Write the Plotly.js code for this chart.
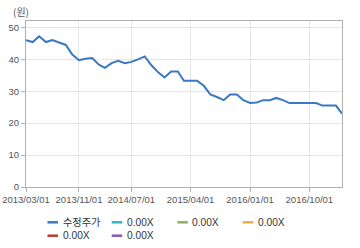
<!DOCTYPE html>
<html>
<head>
<meta charset="utf-8">
<script src="https://cdn.plot.ly/plotly-3.0.1.min.js"></script>
<style>html,body{margin:0;padding:0;background:#fff;}#chart{width:360px;height:248px;}</style>
</head>
<body>
<div id="chart"></div>
<script>
var dates = ['2013-03-01','2013-04-01','2013-05-01','2013-06-01','2013-07-01','2013-08-01','2013-09-01','2013-10-01','2013-11-01','2013-12-01',
  '2014-01-01','2014-02-01','2014-03-01','2014-04-01','2014-05-01','2014-06-01','2014-07-01','2014-08-01','2014-09-01','2014-10-01','2014-11-01','2014-12-01',
  '2015-01-01','2015-02-01','2015-03-01','2015-04-01','2015-05-01','2015-06-01','2015-07-01','2015-08-01','2015-09-01','2015-10-01','2015-11-01','2015-12-01',
  '2016-01-01','2016-02-01','2016-03-01','2016-04-01','2016-05-01','2016-06-01','2016-07-01','2016-08-01','2016-09-01','2016-10-01','2016-11-01','2016-12-01',
  '2017-01-01','2017-02-01','2017-03-01'];
var price = [46.0,45.4,47.2,45.4,46.0,45.3,44.5,41.5,39.7,40.2,
  40.4,38.3,37.3,38.8,39.5,38.8,39.2,40.0,40.9,38.2,36.0,34.3,
  36.2,36.2,33.3,33.3,33.3,31.7,29.0,28.2,27.2,29.0,29.0,27.2,
  26.3,26.5,27.2,27.2,27.9,27.2,26.3,26.3,26.3,26.3,26.3,25.5,
  25.5,25.5,23.0];
var tickDates = ['2013-03-01','2013-11-01','2014-07-01','2015-04-01','2016-01-01','2016-10-01'];
var tickLabels = ['2013/03/01','2013/11/01','2014/07/01','2015/04/01','2016/01/01','2016/10/01'];
var yTicks = [0,10,20,30,40,50];
var legendLabels = ['수정주가','0.00X','0.00X','0.00X','0.00X','0.00X'];
var legendColors = ['#3a78c4','#2cb6c6','#8db35a','#e9b04a','#c23a30','#8e5aa8'];
var unitLabel = '(원)';

var L = 26, R = 18, T = 21, B = 61, W = 360, H = 248;
var pw = W - L - R, ph = H - T - B;
function px2x(px){ return (px - L) / pw; }
function py2y(py){ return (H - B - py) / ph; }

// legend layout (pixel positions)
var legX = [47.5, 111.7, 177.3, 242.7, 47.5, 111.7];
var legY = [222.3, 222.3, 222.3, 222.3, 235.7, 235.7];
var shapes = [], annotations = [];
for (var i = 0; i < legendLabels.length; i++) {
  shapes.push({type:'line', xref:'paper', yref:'paper',
    x0: px2x(legX[i]), x1: px2x(legX[i] + 10.5), y0: py2y(legY[i]), y1: py2y(legY[i]),
    line:{color: legendColors[i], width: 2.5}});
  annotations.push({xref:'paper', yref:'paper', x: px2x(legX[i] + 13), y: py2y(legY[i]),
    xanchor:'left', yanchor:'middle', showarrow:false, text: legendLabels[i],
    font:{family:'Liberation Sans, Noto Sans CJK KR, sans-serif', size:10.2, color:'#333'}});
}
annotations.push({xref:'paper', yref:'paper', x: px2x(11), y: py2y(11.5), xanchor:'left', yanchor:'middle',
  showarrow:false, text: unitLabel, font:{family:'Noto Sans CJK KR, sans-serif', size:10, color:'#555'}});

var trace = {x: dates, y: price, type:'scatter', mode:'lines', name: legendLabels[0],
  line:{color: legendColors[0], width: 2}, showlegend:false, hoverinfo:'skip'};

var layout = {
  width: W, height: H,
  margin:{l:L, r:R, t:T, b:B, pad:0},
  paper_bgcolor:'#fff', plot_bgcolor:'#fff',
  showlegend:false,
  font:{family:'Liberation Sans, Noto Sans CJK KR, sans-serif', size:9.5, color:'#555'},
  xaxis:{type:'date', range:['2013-03-01','2017-03-01'], tickvals: tickDates, ticktext: tickLabels,
    showgrid:true, gridcolor:'#e6e6e6', gridwidth:1, zeroline:false,
    showline:true, linecolor:'#b0b0b0', linewidth:1, mirror:true,
    ticks:'outside', ticklen:4, tickcolor:'#b0b0b0', tickangle:0,
    tickfont:{size:9.5, color:'#555'}, fixedrange:true},
  yaxis:{range:[0,52], tickvals: yTicks, showgrid:true, gridcolor:'#e6e6e6', gridwidth:1, zeroline:false,
    showline:true, linecolor:'#b0b0b0', linewidth:1, mirror:true,
    ticks:'outside', ticklen:4, tickcolor:'#b0b0b0',
    tickfont:{size:9.5, color:'#555'}, fixedrange:true},
  shapes: shapes,
  annotations: annotations
};
Plotly.newPlot('chart', [trace], layout, {displayModeBar:false, staticPlot:true});
</script>
</body>
</html>
